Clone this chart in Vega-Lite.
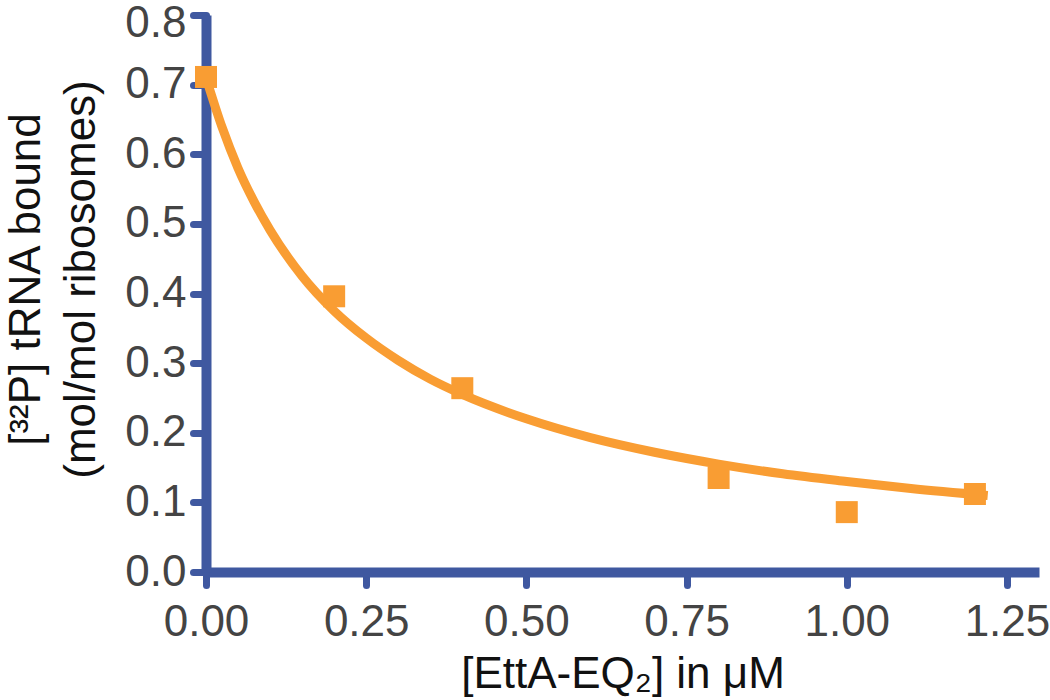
{
  "$schema": "https://vega.github.io/schema/vega-lite/v6.json",
  "width": 833,
  "height": 557,
  "autosize": {"type": "none"},
  "padding": {"left": 206, "top": 15, "right": 11, "bottom": 128},
  "background": "white",
  "datasets": {
    "points": [
      {"conc": 0.0, "bound": 0.711},
      {"conc": 0.2, "bound": 0.396},
      {"conc": 0.4, "bound": 0.264},
      {"conc": 0.8, "bound": 0.135},
      {"conc": 1.0, "bound": 0.086},
      {"conc": 1.2, "bound": 0.112}
    ],
    "fit": [
      {"conc": 0.0, "bound": 0.710},
      {"conc": 0.025, "bound": 0.639},
      {"conc": 0.05, "bound": 0.580},
      {"conc": 0.075, "bound": 0.532},
      {"conc": 0.1, "bound": 0.491},
      {"conc": 0.15, "bound": 0.425},
      {"conc": 0.2, "bound": 0.375},
      {"conc": 0.25, "bound": 0.336},
      {"conc": 0.3, "bound": 0.304},
      {"conc": 0.35, "bound": 0.277},
      {"conc": 0.4, "bound": 0.255},
      {"conc": 0.5, "bound": 0.220},
      {"conc": 0.6, "bound": 0.193},
      {"conc": 0.7, "bound": 0.172},
      {"conc": 0.8, "bound": 0.155},
      {"conc": 0.9, "bound": 0.141},
      {"conc": 1.0, "bound": 0.130},
      {"conc": 1.1, "bound": 0.120},
      {"conc": 1.22, "bound": 0.110}
    ]
  },
  "config": {
    "view": {"stroke": null},
    "font": "Liberation Sans",
    "axis": {
      "grid": false,
      "domainColor": "#3F58A0",
      "domainWidth": 10,
      "tickColor": "#3F58A0",
      "tickWidth": 7,
      "tickCap": "round",
      "tickSize": 13,
      "labelFont": "Liberation Sans",
      "labelFontSize": 44,
      "labelColor": "#444444",
      "titleFont": "Liberation Sans",
      "titleFontSize": 44,
      "titleFontWeight": "normal",
      "titleColor": "#111111"
    }
  },
  "layer": [
    {
      "data": {"name": "fit"},
      "mark": {"type": "line", "color": "#F99D33", "strokeWidth": 9, "interpolate": "monotone"},
      "encoding": {
        "x": {
          "field": "conc", "type": "quantitative",
          "scale": {"domain": [0, 1.3], "nice": false, "zero": true},
          "axis": {
            "values": [0, 0.25, 0.5, 0.75, 1.0, 1.25],
            "format": ".2f",
            "labelPadding": 15,
            "labelFlush": false,
            "labelOverlap": false,
            "title": "[EttA-EQ₂] in μM",
            "titlePadding": 8
          }
        },
        "y": {
          "field": "bound", "type": "quantitative",
          "scale": {"domain": [0, 0.8], "nice": false},
          "axis": {
            "values": [0, 0.1, 0.2, 0.3, 0.4, 0.5, 0.6, 0.7, 0.8],
            "format": ".1f",
            "labelPadding": 7,
            "labelFlush": false,
            "labelOverlap": false,
            "labelOffset": {"condition": {"test": "datum.value >= 0.79", "value": 8}, "value": 0},
            "title": ["[³²P] tRNA bound", "(mol/mol ribosomes)"],
            "titleLineHeight": 55,
            "titlePadding": 21,
            "titleY": 264
          }
        }
      }
    },
    {
      "data": {"name": "points"},
      "mark": {"type": "point", "shape": "square", "filled": true, "size": 484, "color": "#F99D33", "opacity": 1},
      "encoding": {
        "x": {"field": "conc", "type": "quantitative"},
        "y": {"field": "bound", "type": "quantitative"}
      }
    }
  ]
}
